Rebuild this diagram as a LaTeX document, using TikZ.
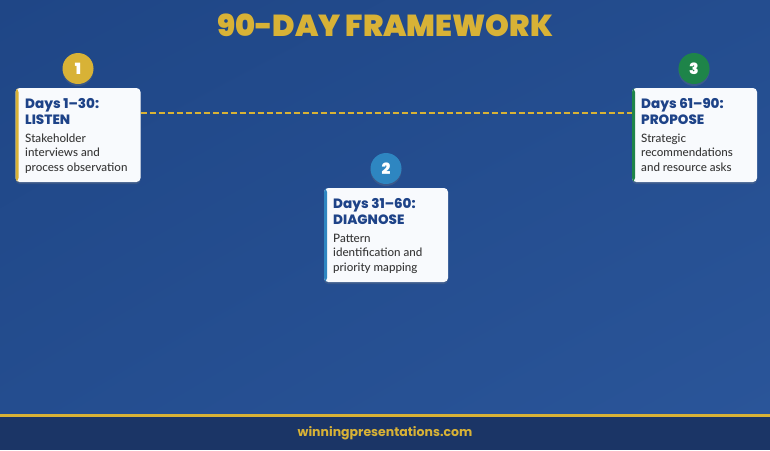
\documentclass[tikz,border=0pt]{standalone}
\usepackage{fontspec}
\IfFontExistsTF{Lato Medium}{\setmainfont{Lato Medium}}{\setmainfont{Lato}}
\newfontfamily\pop{Poppins}
\IfFontExistsTF{Poppins Black}{\newfontfamily\popblack{Poppins Black}}{\newfontfamily\popblack{Poppins}[UprightFont=*-Bold]}
\IfFontExistsTF{Poppins ExtraBold}{\newfontfamily\popxb{Poppins ExtraBold}}{\newfontfamily\popxb{Poppins}[UprightFont=*-Bold]}
\usetikzlibrary{shadows,shadings}
\definecolor{bgA}{HTML}{1F4686}
\definecolor{bgB}{HTML}{2A5599}
\definecolor{bgM}{HTML}{244D8F}
\definecolor{gold}{HTML}{D8B236}
\definecolor{navy}{HTML}{1B3566}
\definecolor{headblue}{HTML}{1E4388}
\definecolor{bodygray}{HTML}{363636}
\definecolor{cardbg}{HTML}{F8FAFD}
\definecolor{cblue}{HTML}{2E86C1}
\definecolor{cgreen}{HTML}{1E8449}
\tikzset{
  card/.style={draw=none, fill=cardbg, rounded corners=4pt, minimum width=125pt, minimum height=94pt,
    inner sep=0pt, drop shadow={opacity=0.25, shadow xshift=0pt, shadow yshift=-2pt}},
  stripe/.style={path picture={\fill[#1] (path picture bounding box.north west) rectangle ([xshift=3pt]path picture bounding box.south west);}},
  numc/.style={circle, fill=#1, minimum size=31pt, inner sep=0pt, text=white,
    font=\popblack\fontsize{15.5}{15.5}\selectfont,
    drop shadow={opacity=0.25, shadow xshift=0pt, shadow yshift=-2pt}},
  head/.style={anchor=base west, align=left, inner sep=0pt, text=headblue,
    font=\popxb\fontsize{13.5}{16}\selectfont},
  body/.style={anchor=base west, align=left, inner sep=0pt, text=bodygray,
    font=\fontsize{11.6}{14.5}\selectfont},
  dashline/.style={draw=gold, line width=2.2pt, dash pattern=on 6pt off 3pt},
}
\begin{document}
\begin{tikzpicture}[x=1pt, y=-1pt]
\useasboundingbox (0,0) rectangle (770,450);
\shade[upper left=bgA, lower right=bgB, upper right=bgM, lower left=bgM] (0,0) rectangle (770,416);
\fill[navy] (0,416) rectangle (770,450);
\fill[gold] (0,414) rectangle (770,416.5);

\node[text=gold, font=\popblack\fontsize{30.3}{30.3}\selectfont] (title) at (385,25) {90-DAY FRAMEWORK};

% cards
\node[card, stripe=gold] (c1) at (78,135) {};
\node[card, stripe=cblue, minimum width=124pt] (c2) at (386,235) {};
\node[card, stripe=cgreen] (c3) at (694.5,135) {};

\draw[dashline] ([yshift=22pt]c1.east) -- ([yshift=22pt]c3.west);

% circles
\node[numc=gold] (n1) at (78,68.5) {1};
\node[numc=cblue] (n2) at (386,168.5) {2};
\node[numc=cgreen] (n3) at (694,68.5) {3};

% texts (anchor = baseline of the last line)
\node[head] (h1) at (25,124) {Days 1–30:\\LISTEN};
\node[body] (b1) at (25,171) {Stakeholder\\interviews and\\process observation};
\node[head] (h2) at (333,224) {Days 31–60:\\DIAGNOSE};
\node[body] (b2) at (333,271) {Pattern\\identification and\\priority mapping};
\node[head] (h3) at (641,124) {Days 61–90:\\PROPOSE};
\node[body] (b3) at (641,171) {Strategic\\recommendations\\and resource asks};

\node[text=gold, font=\pop\bfseries\fontsize{12.5}{12.5}\selectfont] (foot) at (385,433) {winningpresentations.com};
\end{tikzpicture}
\end{document}
